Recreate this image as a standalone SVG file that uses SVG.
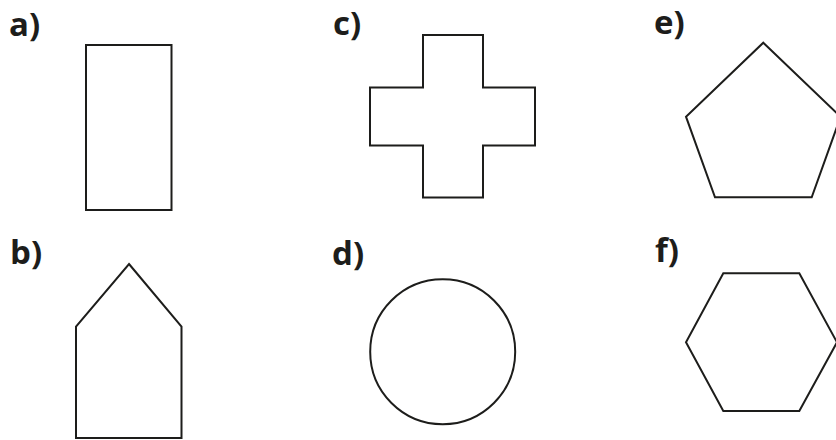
<svg xmlns="http://www.w3.org/2000/svg" width="836" height="440" viewBox="0 0 836 440">
<style>
.lbl{font-family:"Open Sans","Liberation Sans",sans-serif;font-weight:700;font-size:33px;fill:#1d1d1b}
.shp{fill:none;stroke:#1d1d1b;stroke-width:2;stroke-linejoin:miter}
</style>
<rect width="836" height="440" fill="#fff"/>
<g id="a">
<text class="lbl" x="9" y="36">a)</text>
<rect class="shp" x="86" y="45" width="85.5" height="165"/>
</g>
<g id="b">
<text class="lbl" x="10" y="264">b)</text>
<polygon class="shp" points="129,264 181.5,326.5 181.5,438 76,438 76,326.5"/>
</g>
<g id="c">
<text class="lbl" x="333" y="35">c)</text>
<polygon class="shp" points="423,35 483,35 483,87.5 535,87.5 535,145.5 483,145.5 483,197.5 423,197.5 423,145.5 370,145.5 370,87.5 423,87.5"/>
</g>
<g id="d">
<text class="lbl" x="332" y="265">d)</text>
<circle class="shp" cx="442.7" cy="351.7" r="72.5"/>
</g>
<g id="e">
<text class="lbl" x="654" y="34">e)</text>
<polygon class="shp" points="763.3,42.7 840.6,116.7 811.7,197.3 715,197.3 686,116.7"/>
</g>
<g id="f">
<text class="lbl" x="655" y="262">f)</text>
<polygon class="shp" points="723.3,273.3 799.3,273.3 837,342.3 799.3,411 723.3,411 686,342.3"/>
</g>
</svg>
